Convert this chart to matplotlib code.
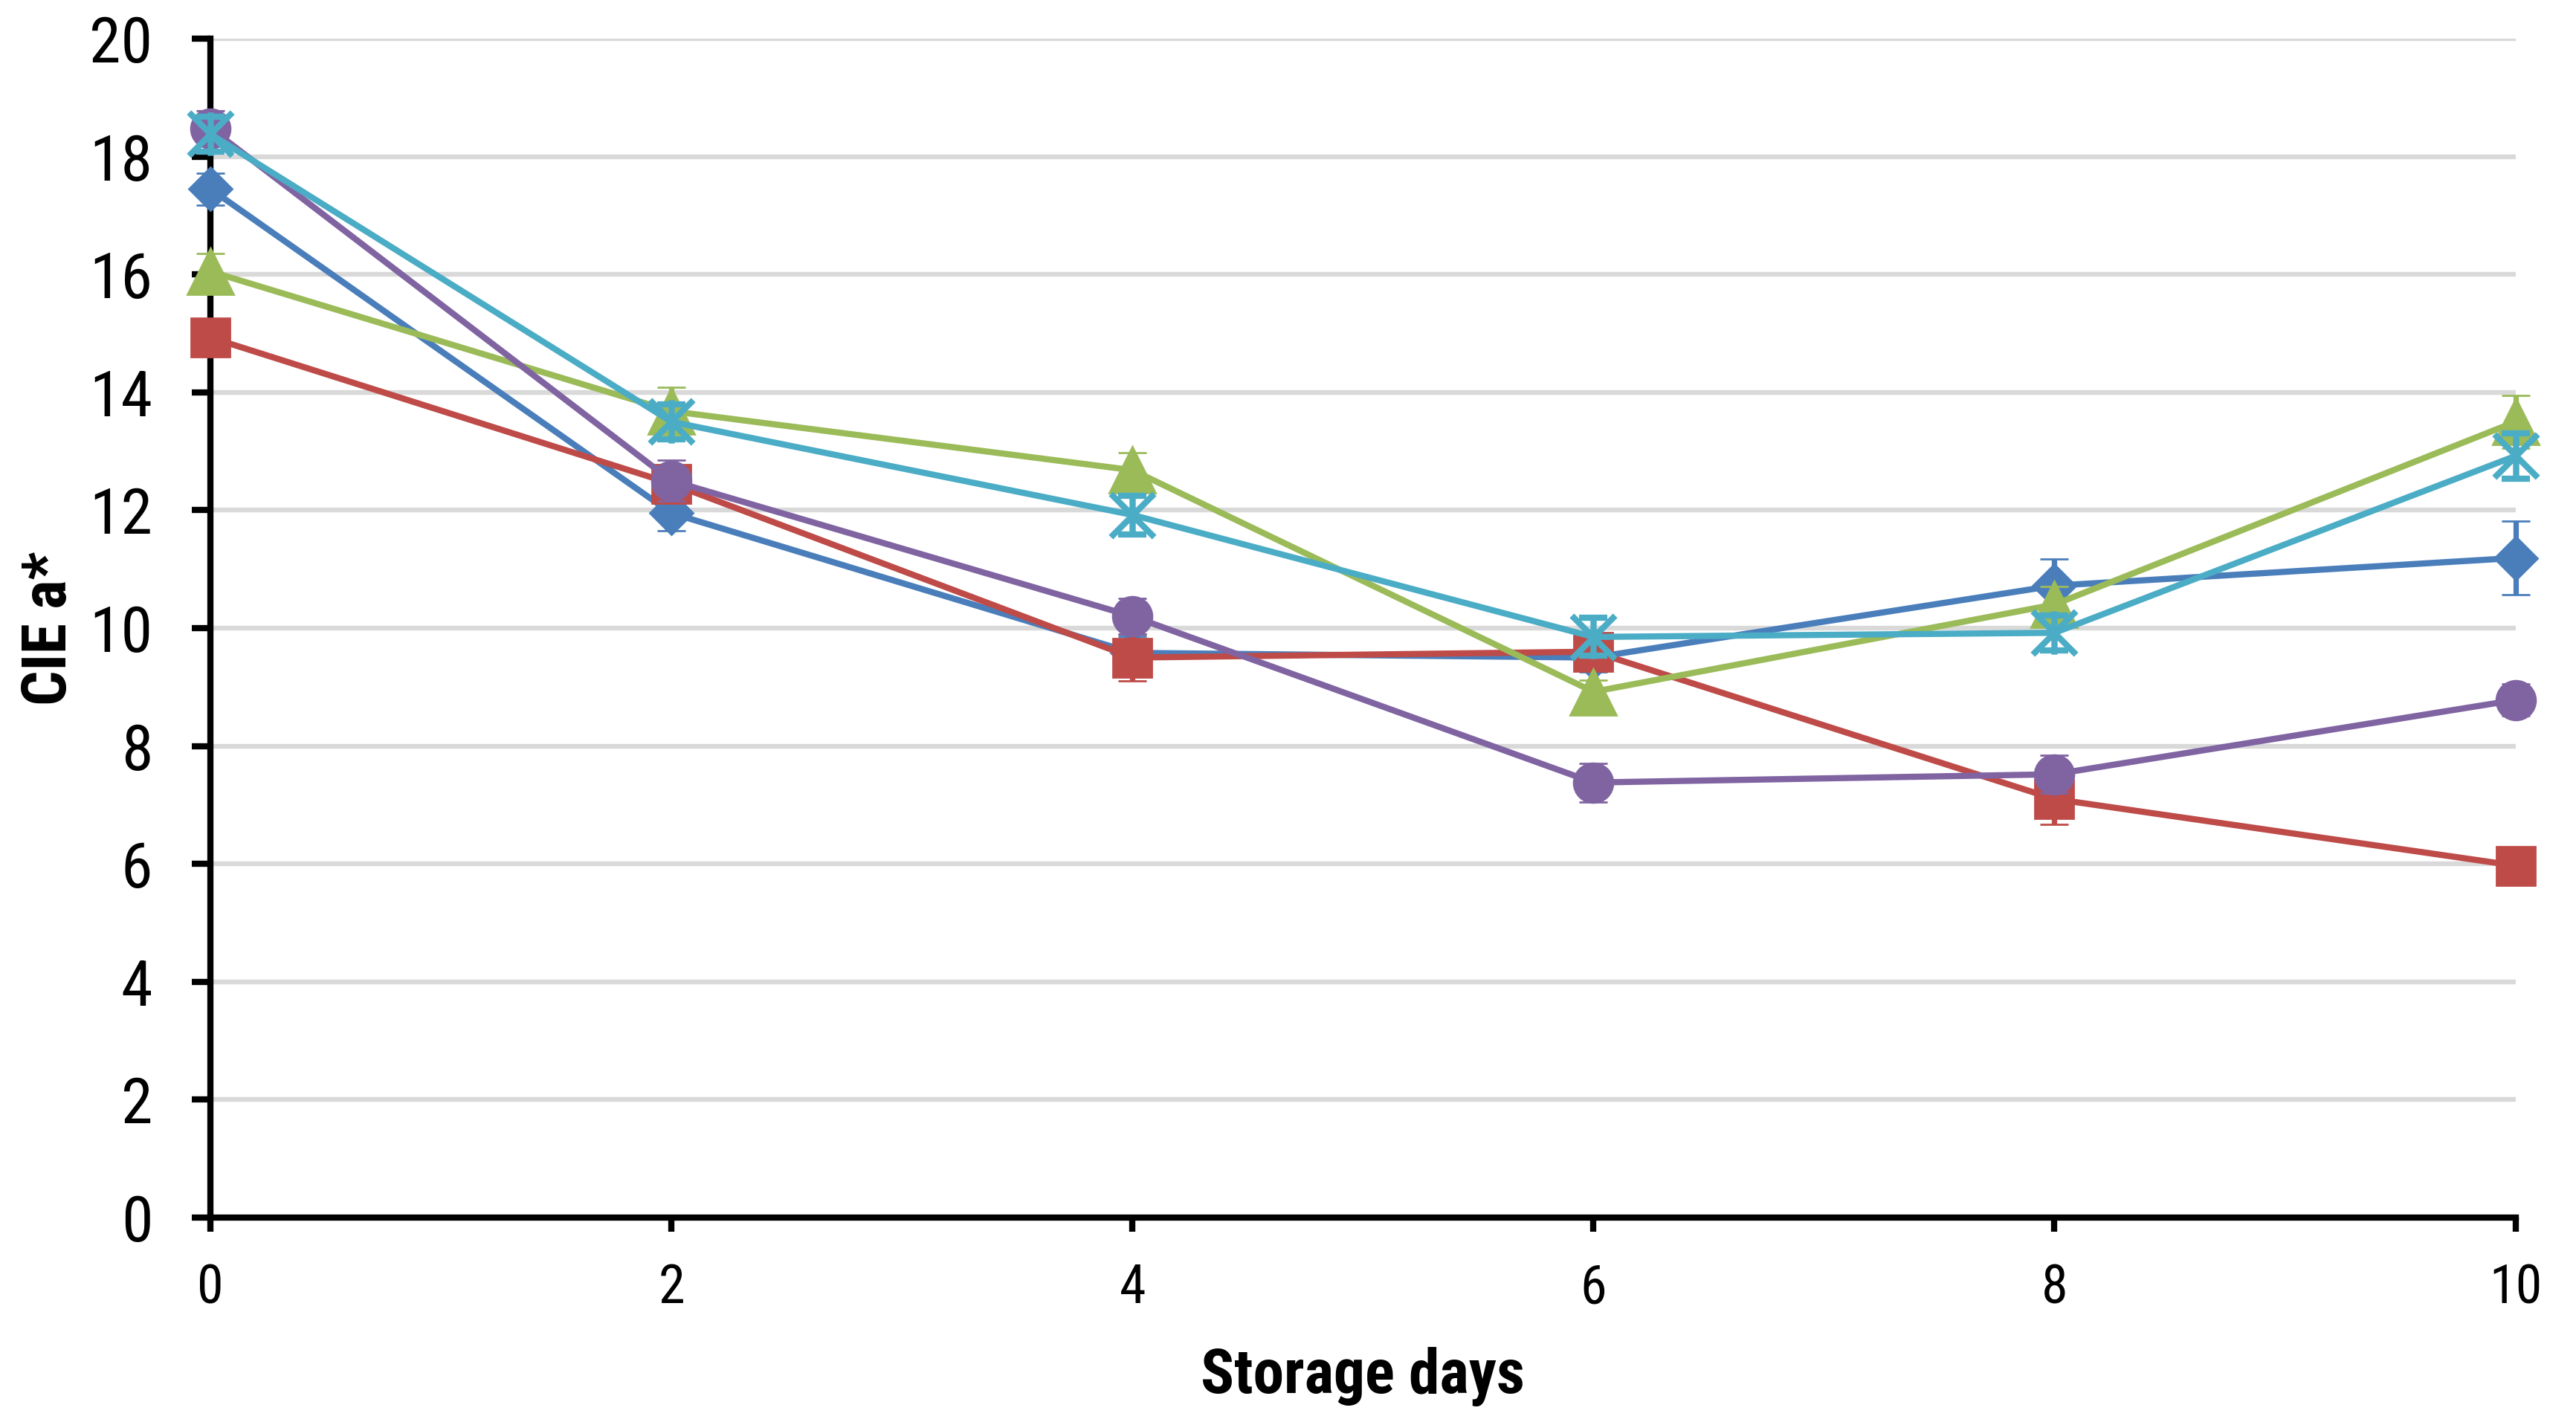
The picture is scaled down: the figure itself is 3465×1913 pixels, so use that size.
import matplotlib
matplotlib.use("Agg")
import matplotlib.pyplot as plt
from matplotlib.path import Path

plt.rcParams["font.family"] = ["Roboto Condensed", "Liberation Sans", "DejaVu Sans"]

# storage days
days = [0, 2, 4, 6, 8, 10]

# CIE a* means and error bars, one list per series (Excel order)
blue_vals = [17.45, 11.95, 9.58, 9.5, 10.72, 11.19]
blue_err = [0.27, 0.3, 0.28, 0.25, 0.45, 0.62]
red_vals = [14.93, 12.45, 9.5, 9.6, 7.1, 5.97]
red_err = [0.15, 0.2, 0.4, 0.2, 0.43, 0.15]
green_vals = [16.05, 13.68, 12.68, 8.92, 10.4, 13.5]
green_err = [0.3, 0.4, 0.3, 0.2, 0.3, 0.45]
purple_vals = [18.48, 12.5, 10.2, 7.38, 7.52, 8.78]
purple_err = [0.3, 0.35, 0.3, 0.33, 0.32, 0.27]
cyan_vals = [18.38, 13.5, 11.92, 9.85, 9.92, 12.92]
cyan_err = [0.3, 0.3, 0.33, 0.32, 0.3, 0.38]

# excel style star marker: X plus a vertical bar
star = Path(
    [(-1, -1), (1, 1), (-1, 1), (1, -1), (0, -1), (0, 1)],
    [Path.MOVETO, Path.LINETO, Path.MOVETO, Path.LINETO, Path.MOVETO, Path.LINETO],
)

series = [
    (blue_vals, blue_err, "#4A7EBB", "D", 15),
    (red_vals, red_err, "#BE4B48", "s", 19),
    (green_vals, green_err, "#9BBB59", "^", 22),
    (purple_vals, purple_err, "#8064A2", "o", 19),
    (cyan_vals, cyan_err, "#4BACC6", star, 21),
]

fig = plt.figure(figsize=(17.33, 9.565), dpi=200)
ax = fig.add_axes([0.0817, 0.1438, 0.8945, 0.829])

for i, (vals, err, col, mk, ms) in enumerate(series):
    ax.errorbar(
        days, vals, yerr=err, color=col, lw=3, marker=mk, ms=ms,
        mfc=col, mec=col, mew=3 if mk is star else 1,
        ecolor=col, elinewidth=2.6, capsize=7, capthick=2.8, zorder=3 + i,
        clip_on=False,
    )

ax.set_xlim(0, 10)
ax.set_ylim(0, 20)
ax.set_xticks(days)
ax.set_yticks(range(0, 21, 2))
ax.yaxis.grid(True, color="#D9D9D9", lw=2.3)
ax.set_axisbelow(True)

for s in ["top", "right"]:
    ax.spines[s].set_visible(False)
for s in ["left", "bottom"]:
    ax.spines[s].set_linewidth(3)
    ax.spines[s].set_zorder(2.5)

ax.tick_params(axis="y", direction="out", length=9, width=3, pad=19, labelsize=31)
ax.tick_params(axis="x", direction="out", length=7, width=3, pad=15, labelsize=26)

ax.set_xlabel("Storage days", fontsize=30, fontweight="bold", labelpad=16)
ax.set_ylabel("CIE a*", fontsize=30, fontweight="bold", labelpad=5)

fig.savefig("out.png", dpi=200)
